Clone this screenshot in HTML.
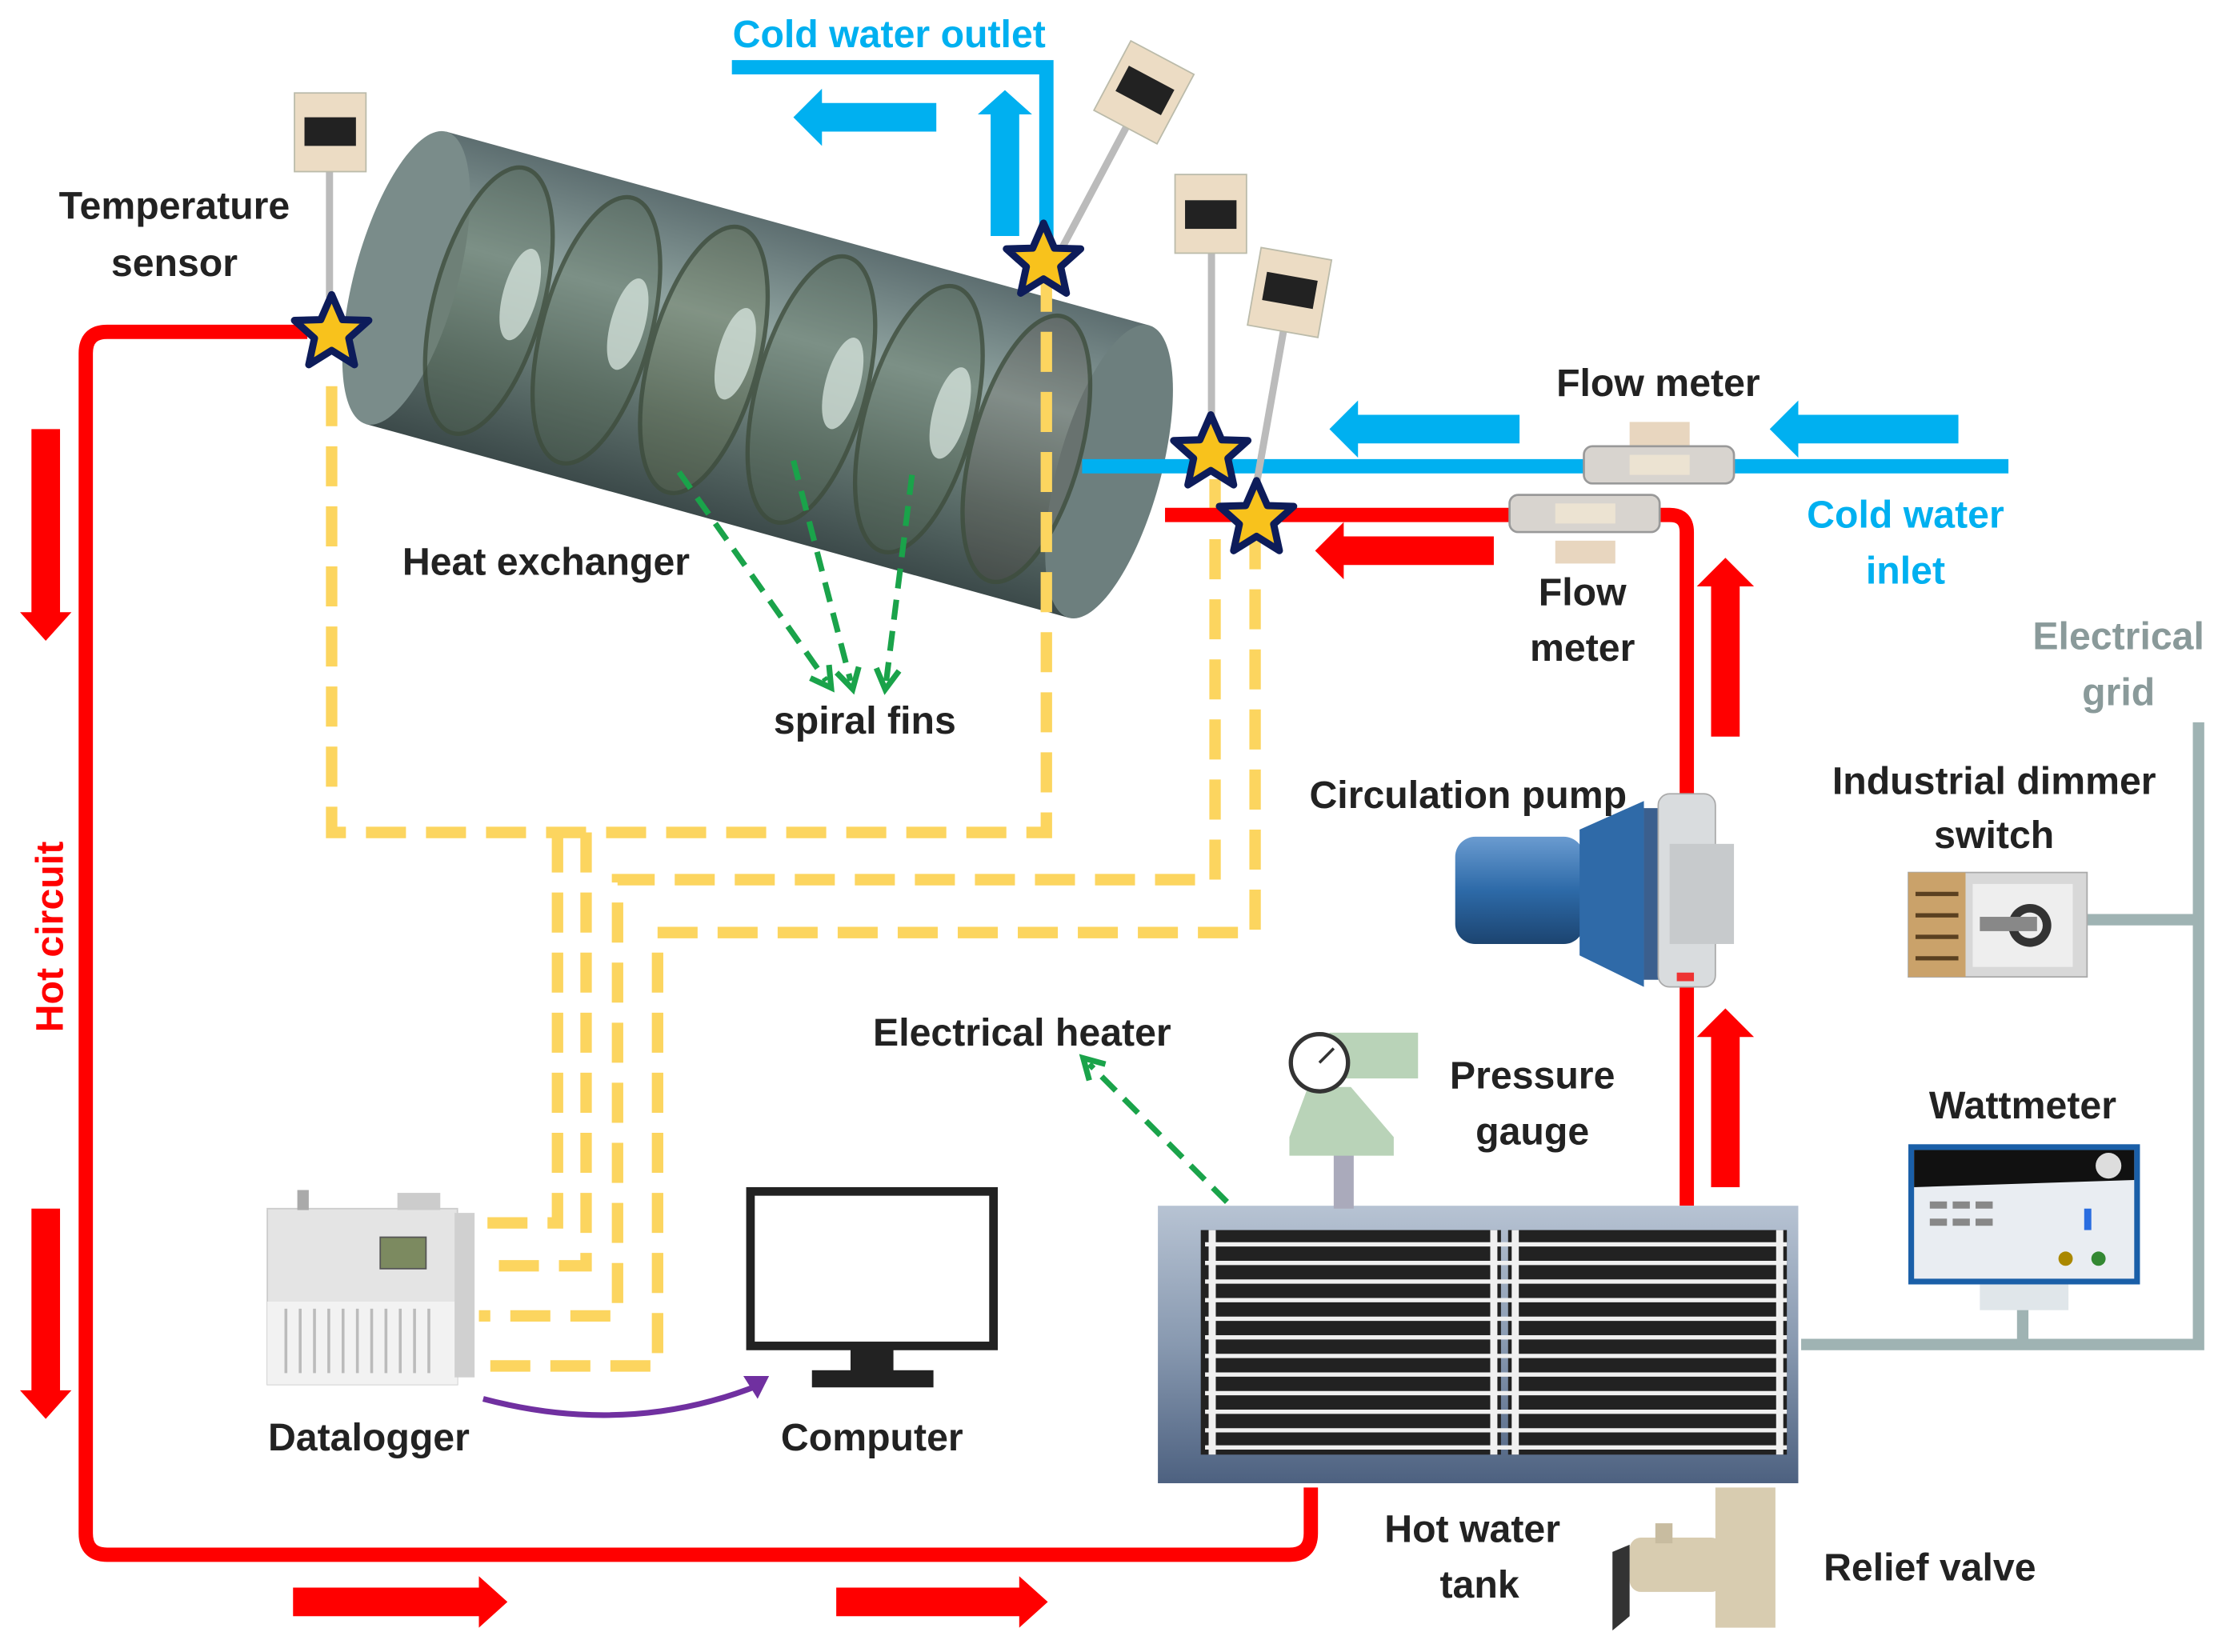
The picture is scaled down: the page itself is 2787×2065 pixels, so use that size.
<!DOCTYPE html>
<html><head><meta charset="utf-8"><style>
html,body{margin:0;padding:0;background:#fff}
svg{display:block}
text{font-family:"Liberation Sans",sans-serif;font-weight:bold}
</style></head><body>
<svg width="2787" height="2065" viewBox="0 0 1560 1155" preserveAspectRatio="none" xmlns="http://www.w3.org/2000/svg">
<defs>
<linearGradient id="cyl" x1="0" y1="0" x2="0" y2="1">
<stop offset="0" stop-color="#5d6e70"/><stop offset="0.35" stop-color="#8fa3a0"/><stop offset="0.7" stop-color="#5e706c"/><stop offset="1" stop-color="#3c4a4a"/>
</linearGradient>
<linearGradient id="tank" x1="0" y1="0" x2="0" y2="1">
<stop offset="0" stop-color="#b7c3d3"/><stop offset="0.5" stop-color="#8899b0"/><stop offset="1" stop-color="#4d6180"/>
</linearGradient>
<linearGradient id="motor" x1="0" y1="0" x2="0" y2="1">
<stop offset="0" stop-color="#6a9bd0"/><stop offset="0.5" stop-color="#2d6aa8"/><stop offset="1" stop-color="#1c4470"/>
</linearGradient>
<marker id="ga" viewBox="0 0 10 10" refX="5" refY="5" markerWidth="5" markerHeight="5" orient="auto"><path d="M1 1 L8 5 L1 9" fill="none" stroke="#1aa34a" stroke-width="2"/></marker>
<symbol id="star" viewBox="-30 -30 60 60"><polygon points="0,-26 7.6,-8.5 26,-8 12,4.5 16,23 0,13 -16,23 -12,4.5 -26,-8 -7.6,-8.5" fill="#f8c21c" stroke="#0d1c5a" stroke-width="5" stroke-linejoin="round"/></symbol>
</defs>

<g transform="translate(530,262) rotate(15.4)">
<rect x="-255" y="-106" width="510" height="212" fill="url(#cyl)"/>
<ellipse cx="255" cy="0" rx="36" ry="106" fill="#6d7f7e"/>
<ellipse cx="-255" cy="0" rx="36" ry="106" fill="#7a8c8a"/>
<g fill="none" stroke="#3e4d3c" stroke-width="3" opacity="0.8">
<ellipse cx="-195" cy="0" rx="38" ry="96" fill="#55684f" fill-opacity="0.4"/>
<ellipse cx="-117" cy="0" rx="38" ry="96" fill="#55684f" fill-opacity="0.4"/>
<ellipse cx="-39" cy="0" rx="38" ry="96" fill="#66744a" fill-opacity="0.4"/>
<ellipse cx="39" cy="0" rx="38" ry="96" fill="#55684f" fill-opacity="0.4"/>
<ellipse cx="117" cy="0" rx="38" ry="96" fill="#55684f" fill-opacity="0.4"/>
<ellipse cx="195" cy="0" rx="38" ry="96" fill="#584a40" fill-opacity="0.3"/>
</g>
<g fill="#d8e6df" opacity="0.75">
<ellipse cx="-175" cy="-10" rx="12" ry="33"/><ellipse cx="-97" cy="-10" rx="12" ry="33"/><ellipse cx="-19" cy="-10" rx="12" ry="33"/><ellipse cx="59" cy="-10" rx="12" ry="33"/><ellipse cx="137" cy="-10" rx="12" ry="33"/>
</g>
</g>

<g fill="none" stroke="#fcd55f" stroke-width="8" stroke-dasharray="28 14">
<path d="M232 270 V582 H732 V190"/>
<path d="M390 582 V855 H335"/>
<path d="M410 582 V885 H335"/>
<path d="M850 335 V615 H432 V920 H335"/>
<path d="M878 370 V652 H460 V955 H335"/>
</g>

<g fill="none" stroke="#ff0000" stroke-width="10" stroke-linejoin="round">
<path d="M215 232 H75 Q60 232 60 247 V1072 Q60 1087 75 1087 H902 Q917 1087 917 1072 V1040"/>
<path d="M815 360 H1168 Q1180 360 1180 372 V843"/>
</g>
<g fill="#ff0000">
<polygon points="22,300 42,300 42,428 50,428 32,448 14,428 22,428"/>
<polygon points="22,845 42,845 42,972 50,972 32,992 14,972 22,972"/>
<polygon points="205,1110 335,1110 335,1102 355,1120 335,1138 335,1130 205,1130"/>
<polygon points="585,1110 713,1110 713,1102 733,1120 713,1138 713,1130 585,1130"/>
<polygon points="1197,515 1217,515 1217,410 1227,410 1207,390 1187,410 1197,410"/>
<polygon points="1197,830 1217,830 1217,725 1227,725 1207,705 1187,725 1197,725"/>
<polygon points="1045,375 1045,395 940,395 940,405 920,385 940,365 940,375"/>
</g>

<g fill="none" stroke="#00b0f0" stroke-width="10">
<path d="M512 47 H732 V180"/>
<path d="M757 326 H1405"/>
</g>
<g fill="#00b0f0">
<polygon points="693,165 713,165 713,80 722,80 703,63 684,80 693,80"/>
<polygon points="655,72 655,92 575,92 575,102 555,82 575,62 575,72"/>
<polygon points="1063,290 1063,310 950,310 950,320 930,300 950,280 950,290"/>
<polygon points="1370,290 1370,310 1258,310 1258,320 1238,300 1258,280 1258,290"/>
</g>

<g>
<rect x="1140" y="295" width="42" height="20" fill="#e8d6bf"/>
<rect x="1108" y="312" width="105" height="26" rx="6" fill="#d8d4cf" stroke="#999" stroke-width="1.5"/>
<rect x="1140" y="318" width="42" height="14" fill="#ece3d2"/>
<rect x="1088" y="378" width="42" height="16" fill="#e8d6bf"/>
<rect x="1056" y="346" width="105" height="26" rx="6" fill="#d8d4cf" stroke="#999" stroke-width="1.5"/>
<rect x="1088" y="352" width="42" height="14" fill="#ece3d2"/>
</g>

<g>
<rect x="228" y="118" width="5" height="90" fill="#bbb"/>
<rect x="206" y="65" width="50" height="55" fill="#ecdcc4" stroke="#bba" stroke-width="1"/>
<rect x="213" y="82" width="36" height="20" fill="#222"/>
<rect x="845" y="175" width="5" height="118" fill="#bbb"/>
<rect x="822" y="122" width="50" height="55" fill="#ecdcc4" stroke="#bba"/>
<rect x="829" y="140" width="36" height="20" fill="#222"/>
<g transform="translate(800,65) rotate(28)"><rect x="-2" y="25" width="5" height="100" fill="#bbb"/><rect x="-25" y="-28" width="50" height="55" fill="#ecdcc4" stroke="#bba"/><rect x="-18" y="-12" width="36" height="20" fill="#222"/></g>
<g transform="translate(902,205) rotate(10)"><rect x="-2" y="25" width="5" height="125" fill="#bbb"/><rect x="-25" y="-28" width="50" height="55" fill="#ecdcc4" stroke="#bba"/><rect x="-18" y="-12" width="36" height="20" fill="#222"/></g>
</g>
<use href="#star" x="202" y="202" width="60" height="60"/>
<use href="#star" x="700" y="152" width="60" height="60"/>
<use href="#star" x="817" y="286" width="60" height="60"/>
<use href="#star" x="849" y="332" width="60" height="60"/>

<g stroke="#1aa34a" stroke-width="4" stroke-dasharray="14 8" fill="none" marker-end="url(#ga)">
<path d="M475 330 L578 476"/><path d="M555 322 L595 476"/><path d="M638 332 L620 476"/>
<path d="M905 887 L762 744"/>
</g>

<g>
<rect x="1018" y="585" width="90" height="75" rx="14" fill="url(#motor)"/>
<path d="M1105 580 L1150 560 L1150 690 L1105 668 Z" fill="#2f6aa8"/>
<rect x="1150" y="565" width="12" height="120" fill="#3b5f8e"/>
<rect x="1160" y="555" width="40" height="135" rx="8" fill="#d9dcde" stroke="#aaa"/>
<rect x="1168" y="590" width="45" height="70" fill="#c7cacc"/>
<rect x="1173" y="680" width="12" height="6" fill="#e33"/>
</g>

<g fill="none" stroke="#9fb3b3" stroke-width="8">
<path d="M1538 505 V940 H1260"/>
<path d="M1460 643 H1538"/>
<path d="M1415 895 V940"/>
</g>
<rect x="1335" y="610" width="125" height="73" fill="#d8d8d8" stroke="#aaa"/>
<rect x="1335" y="610" width="40" height="73" fill="#caa26a"/>
<g stroke="#5a4020" stroke-width="3"><path d="M1340 625H1370M1340 640H1370M1340 655H1370M1340 670H1370"/></g>
<rect x="1380" y="618" width="70" height="58" fill="#eee"/>
<circle cx="1420" cy="647" r="15" fill="#333"/><circle cx="1420" cy="647" r="9" fill="#eee"/>
<rect x="1385" y="641" width="40" height="10" fill="#888"/>
<rect x="1335" y="800" width="162" height="98" fill="#1a5fa8"/>
<rect x="1339" y="804" width="154" height="90" fill="#e9edf2"/>
<polygon points="1339,804 1493,804 1493,825 1339,830" fill="#111"/>
<circle cx="1475" cy="815" r="9" fill="#ddd"/>
<g fill="#888"><rect x="1350" y="840" width="12" height="5"/><rect x="1366" y="840" width="12" height="5"/><rect x="1382" y="840" width="12" height="5"/><rect x="1350" y="852" width="12" height="5"/><rect x="1366" y="852" width="12" height="5"/><rect x="1382" y="852" width="12" height="5"/></g>
<rect x="1458" y="845" width="5" height="15" fill="#2a6de0"/>
<circle cx="1445" cy="880" r="5" fill="#a80"/><circle cx="1468" cy="880" r="5" fill="#383"/>
<rect x="1385" y="898" width="62" height="18" fill="#e0e6ea"/>

<rect x="810" y="843" width="448" height="194" fill="url(#tank)"/>
<rect x="840" y="860" width="210" height="157" fill="#222"/>
<rect x="1055" y="860" width="195" height="157" fill="#222"/>
<g stroke="#f0f0f0" stroke-width="3">
<path d="M843 870H1250M843 883H1250M843 896H1250M843 909H1250M843 922H1250M843 935H1250M843 948H1250M843 961H1250M843 974H1250M843 987H1250M843 1000H1250M843 1012H1250"/>
<path d="M848 860V1017M1045 860V1017M1060 860V1017M1245 860V1017" stroke-width="5"/>
</g>
<rect x="933" y="805" width="14" height="40" fill="#aab"/>
<path d="M915 760 L945 760 L975 795 L975 808 L902 808 L902 795 Z" fill="#b9d3b8"/>
<rect x="930" y="722" width="62" height="32" fill="#b9d3b8"/>
<circle cx="923" cy="743" r="20" fill="#fff" stroke="#333" stroke-width="3"/>
<path d="M923 743 L933 733" stroke="#333" stroke-width="2"/>
<rect x="1200" y="1040" width="42" height="98" fill="#d8ccb0"/>
<rect x="1140" y="1075" width="65" height="38" rx="8" fill="#d8ccb0"/>
<rect x="1158" y="1065" width="12" height="14" fill="#c8bca0"/>
<polygon points="1128,1085 1140,1080 1140,1130 1128,1140" fill="#333"/>

<rect x="187" y="845" width="133" height="123" fill="#e4e4e4" stroke="#ccc"/>
<rect x="187" y="910" width="133" height="58" fill="#f2f2f2"/>
<g stroke="#bbb" stroke-width="2"><path d="M200 915V960M210 915V960M220 915V960M230 915V960M240 915V960M250 915V960M260 915V960M270 915V960M280 915V960M290 915V960M300 915V960"/></g>
<rect x="266" y="865" width="32" height="22" fill="#7c8a60" stroke="#555"/>
<rect x="278" y="834" width="30" height="12" fill="#ccc"/>
<rect x="318" y="848" width="14" height="115" fill="#d0d0d0"/>
<rect x="208" y="832" width="8" height="14" fill="#aaa"/>
<rect x="525" y="833" width="170" height="108" fill="#fff" stroke="#222" stroke-width="6"/>
<rect x="595" y="941" width="30" height="20" fill="#222"/>
<rect x="568" y="958" width="85" height="12" fill="#222"/>
<path d="M338 978 Q440 1005 532 968" fill="none" stroke="#7030a0" stroke-width="4"/>
<polygon points="538,962 520,962 530,978" fill="#7030a0"/>

<g font-size="27" fill="#222" text-anchor="middle">
<text x="122" y="153">Temperature</text>
<text x="122" y="193">sensor</text>
<text x="382" y="402">Heat exchanger</text>
<text x="605" y="513">spiral fins</text>
<text x="1160" y="277">Flow meter</text>
<text x="1107" y="423">Flow</text>
<text x="1107" y="462">meter</text>
<text x="1027" y="565">Circulation pump</text>
<text x="1395" y="555">Industrial dimmer</text>
<text x="1395" y="593">switch</text>
<text x="715" y="731">Electrical heater</text>
<text x="1072" y="761">Pressure</text>
<text x="1072" y="800">gauge</text>
<text x="1415" y="782">Wattmeter</text>
<text x="258" y="1014">Datalogger</text>
<text x="610" y="1014">Computer</text>
<text x="1030" y="1078">Hot water</text>
<text x="1035" y="1117">tank</text>
<text x="1350" y="1105">Relief valve</text>
</g>
<g font-size="27" fill="#00b0f0" text-anchor="middle">
<text x="622" y="33">Cold water outlet</text>
<text x="1333" y="369">Cold water</text>
<text x="1333" y="408">inlet</text>
</g>
<g font-size="27" fill="#8a9a9a" text-anchor="middle">
<text x="1482" y="454">Electrical</text>
<text x="1482" y="493">grid</text>
</g>
<text x="0" y="0" font-size="27" fill="#ff0000" text-anchor="middle" transform="translate(44,655) rotate(-90)">Hot circuit</text>
</svg>
</body></html>
